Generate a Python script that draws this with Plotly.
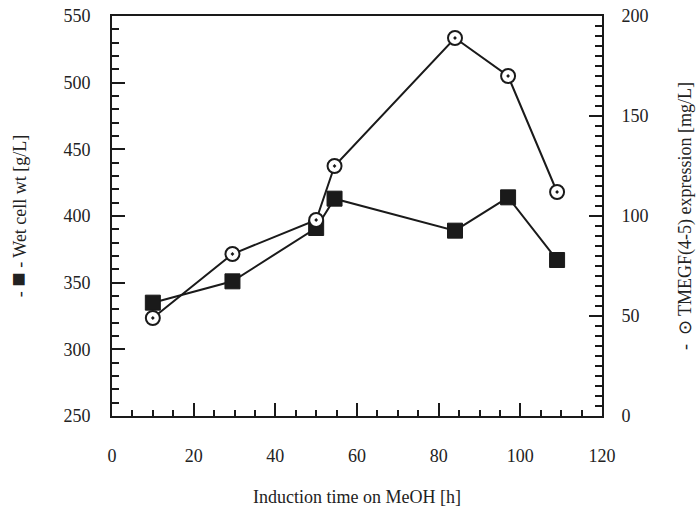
import plotly.graph_objects as go

# Induction time on methanol (h)
induction_time = [10, 29.5, 50, 54.5, 84, 97, 109]
# Wet cell weight (g/L), left axis
wet_cell_wt = [335, 351, 391, 413, 389, 414, 367]
# TMEGF(4-5) expression (mg/L), right axis
tmegf_expr = [49, 81, 98, 125, 189, 170, 112]

FONT = "Liberation Serif, Times New Roman, serif"

fig = go.Figure()

fig.add_trace(go.Scatter(
    x=induction_time, y=wet_cell_wt, mode="lines+markers",
    line=dict(color="#1a1a1a", width=2),
    marker=dict(symbol="square", size=15, color="#1a1a1a",
                line=dict(color="#1a1a1a", width=1)),
    yaxis="y", showlegend=False,
))

fig.add_trace(go.Scatter(
    x=induction_time, y=tmegf_expr, mode="lines+markers",
    line=dict(color="#1a1a1a", width=2),
    marker=dict(symbol="circle-dot", size=14, color="white",
                line=dict(color="#1a1a1a", width=2)),
    yaxis="y2", showlegend=False,
))

axis_common = dict(
    showgrid=False, zeroline=False, showline=True, automargin=False,
    linecolor="#1a1a1a", linewidth=2,
    ticks="inside", ticklen=13, tickwidth=2, tickcolor="#1a1a1a",
    tickfont=dict(family=FONT, size=18, color="#222"),
)

fig.update_layout(
    width=696, height=515,
    margin=dict(l=112, r=94, t=16, b=99),
    paper_bgcolor="white", plot_bgcolor="white",
    font=dict(family=FONT, color="#222"),
    xaxis=dict(
        **axis_common,
        range=[0, 120], tick0=0, dtick=20, mirror=True,
        ticklabelstandoff=22,
        minor=dict(ticks="inside", dtick=5, ticklen=6, tickwidth=2,
                   tickcolor="#1a1a1a", showgrid=False),
        title=dict(text="Induction time on MeOH [h]",
                   font=dict(family=FONT, size=18, color="#222"),
                   standoff=26),
    ),
    yaxis=dict(
        **axis_common,
        range=[250, 550], tick0=250, dtick=50,
        ticklabelstandoff=16,
        minor=dict(ticks="inside", dtick=10, ticklen=7, tickwidth=2,
                   tickcolor="#1a1a1a", showgrid=False),
        title=dict(text="- <span style='font-size:24px'>\u25a0</span> - Wet cell wt [g/L]",
                   font=dict(family=FONT, size=18, color="#222"),
                   standoff=32),
    ),
    yaxis2=dict(
        **axis_common,
        overlaying="y", side="right",
        range=[0, 200], tick0=0, dtick=50,
        ticklabelstandoff=14,
        minor=dict(ticks="inside", dtick=5, ticklen=7, tickwidth=2,
                   tickcolor="#1a1a1a", showgrid=False),
        title=dict(text="-  \u2299 TMEGF(4-5) expression [mg/L]",
                   font=dict(family=FONT, size=18, color="#222"),
                   standoff=33),
    ),
)

fig.write_html("out.html")
